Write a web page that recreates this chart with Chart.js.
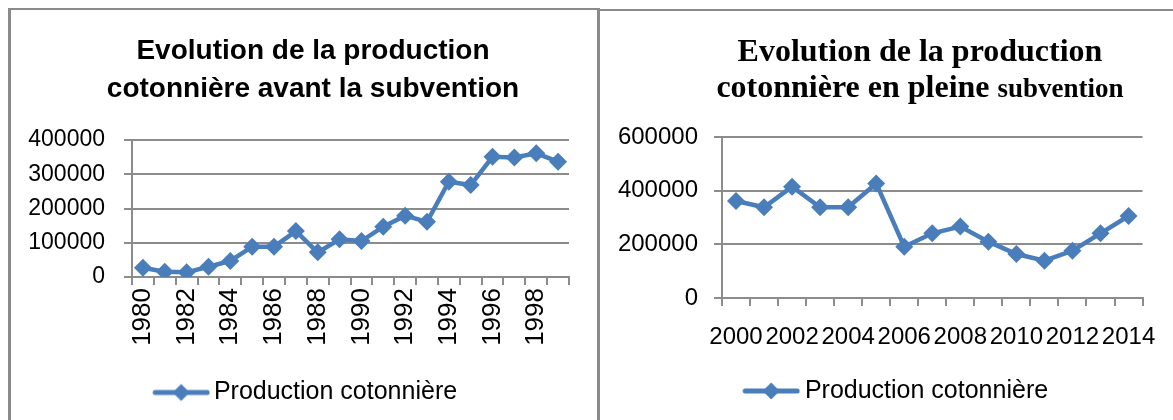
<!DOCTYPE html>
<html>
<head>
<meta charset="utf-8">
<script src="https://cdn.jsdelivr.net/npm/chart.js@4.4.0/dist/chart.umd.min.js"></script>
<style>
  html, body { margin: 0; padding: 0; background: #fff; width: 1173px; height: 420px; overflow: hidden; }
  #leftBox { position: absolute; left: 8px; top: 8px; width: 586px; height: 420px;
             border-left: 3px solid #8a8a8a; border-top: 2px solid #8a8a8a; border-right: 3px solid #8a8a8a; }
  #rightBox { position: absolute; left: 597px; top: 9px; width: 600px; height: 420px;
              border-left: 3px solid #8a8a8a; border-top: 2px solid #8a8a8a; }
  #wrapAvant { position: absolute; left: 0; top: 0; width: 598px; height: 420px; }
  #wrapPleine { position: absolute; left: 600px; top: 0; width: 573px; height: 420px; }
</style>
</head>
<body>
<div id="leftBox"></div>
<div id="rightBox"></div>
<div id="wrapAvant"><canvas id="chartAvant" width="598" height="420"></canvas></div>
<div id="wrapPleine"><canvas id="chartPleine" width="573" height="420"></canvas></div>
<script>
// Avant la subvention (1980-1999)
const yearsAvant = ['1980', '1981', '1982', '1983', '1984', '1985', '1986', '1987', '1988', '1989',
                    '1990', '1991', '1992', '1993', '1994', '1995', '1996', '1997', '1998', '1999'];
const productionAvant = [27000, 15500, 13700, 30000, 46700, 88500, 88500, 134000, 72000, 110000,
                         105000, 147000, 179000, 161000, 278000, 268500, 351000, 349000, 361000, 336600];
const yTicksAvant = [0, 100000, 200000, 300000, 400000];

// En pleine subvention (2000-2014)
const yearsPleine = ['2000', '2001', '2002', '2003', '2004', '2005', '2006', '2007',
                     '2008', '2009', '2010', '2011', '2012', '2013', '2014'];
const productionPleine = [361500, 338000, 415000, 338000, 338000, 427000, 191000, 241000,
                          266000, 210000, 164000, 139000, 176000, 241000, 305600];
const yTicksPleine = [0, 200000, 400000, 600000];

const seriesName = 'Production cotonnière';

const BLUE = '#4a7ebb';
const GRID = '#8c8c8c';
const SANS = '"Liberation Sans", Arial, sans-serif';
const SERIF = '"Liberation Serif", "Times New Roman", serif';

// titles: each line is a list of [text, font] pieces
const titleAvant = [
    [['Evolution de la production', 'bold 28px ' + SANS]],
    [['cotonnière avant la subvention', 'bold 28px ' + SANS]]
];
const titlePleine = [
    [['Evolution de la production', 'bold 32px ' + SERIF]],
    [['cotonnière en pleine ', 'bold 32px ' + SERIF], ['subvention', 'bold 27px ' + SERIF]]
];

// line + diamond glyph for the legend, sitting at the right end of a wider transparent image
function legendGlyph(imgWidth) {
    const c = document.createElement('canvas');
    c.width = Math.round(imgWidth); c.height = 20;
    const g = c.getContext('2d');
    const x0 = c.width - 57;
    g.strokeStyle = BLUE;
    g.lineWidth = 5;
    g.lineCap = 'round';
    g.beginPath(); g.moveTo(x0 + 2, 10); g.lineTo(x0 + 54, 10); g.stroke();
    g.fillStyle = BLUE;
    g.beginPath();
    g.moveTo(x0 + 28, 1.5); g.lineTo(x0 + 36.5, 10); g.lineTo(x0 + 28, 18.5); g.lineTo(x0 + 19.5, 10);
    g.closePath(); g.fill();
    return c;
}

// title drawn by hand so one line can mix two font sizes
const pieceTitle = {
    id: 'pieceTitle',
    afterDraw(chart, args, opts) {
        if (!opts.lines) return;
        const ctx = chart.ctx;
        ctx.save();
        ctx.fillStyle = '#000';
        ctx.textBaseline = 'alphabetic';
        ctx.textAlign = 'left';
        opts.lines.forEach((pieces, i) => {
            const widths = pieces.map(p => { ctx.font = p[1]; return ctx.measureText(p[0]).width; });
            let x = opts.x - widths.reduce((a, b) => a + b, 0) / 2;
            pieces.forEach((p, j) => {
                ctx.font = p[1];
                ctx.fillText(p[0], x, opts.baselines[i]);
                x += widths[j];
            });
        });
        ctx.restore();
    }
};

function buildChart(id, cfg) {
    const ticks = cfg.yTicks;
    return new Chart(document.getElementById(id), {
        type: 'line',
        data: {
            labels: cfg.labels,
            datasets: [{
                label: seriesName,
                data: cfg.values,
                borderColor: BLUE,
                backgroundColor: BLUE,
                borderWidth: 4.5,
                tension: 0,
                pointStyle: 'rectRot',
                pointRadius: 9,
                pointBorderWidth: 0,
                pointBackgroundColor: BLUE,
                fill: false
            }]
        },
        plugins: [pieceTitle],
        options: {
            responsive: false,
            animation: false,
            events: [],
            layout: { padding: cfg.padding },
            plugins: {
                title: { display: false },
                pieceTitle: cfg.title,
                tooltip: { enabled: false },
                legend: {
                    position: 'bottom',
                    labels: {
                        usePointStyle: true,
                        pointStyle: legendGlyph(cfg.glyphImg),
                        pointStyleWidth: cfg.glyphBox,
                        padding: 10,
                        color: '#000',
                        font: { family: SANS, size: 25 }
                    }
                }
            },
            scales: {
                x: {
                    offset: true,
                    afterFit: s => { s.height = cfg.xHeight; },
                    grid: { offset: true, drawOnChartArea: false, drawTicks: true, tickLength: 8, color: GRID, lineWidth: 2 },
                    border: { display: true, color: GRID, width: 2 },
                    ticks: {
                        autoSkip: false,
                        maxRotation: cfg.rotation,
                        minRotation: cfg.rotation,
                        padding: cfg.xPad,
                        color: '#000',
                        font: { family: SANS, size: cfg.xFont },
                        callback: function(v, i) { return i % 2 === 0 ? this.getLabelForValue(v) : ''; }
                    }
                },
                y: {
                    min: ticks[0],
                    max: ticks[ticks.length - 1],
                    afterFit: s => { s.width = cfg.yWidth; },
                    grid: { color: GRID, lineWidth: 2, tickLength: 8 },
                    border: { display: true, color: GRID, width: 2 },
                    ticks: {
                        stepSize: ticks[1] - ticks[0],
                        padding: cfg.yPad,
                        color: '#000',
                        font: { family: SANS, size: cfg.yFont },
                        callback: v => String(v)
                    }
                }
            }
        }
    });
}

buildChart('chartAvant', {
    labels: yearsAvant,
    values: productionAvant,
    yTicks: yTicksAvant,
    padding: { left: 8, right: 29, top: 140, bottom: 5 },
    title: { lines: titleAvant, x: 313, baselines: [59, 97] },
    glyphBox: 81.5,
    glyphImg: 98.5,
    xHeight: 93,
    yWidth: 124,
    rotation: 90,
    xPad: 3,
    xFont: 26,
    yPad: 19,
    yFont: 23
});

buildChart('chartPleine', {
    labels: yearsPleine,
    values: productionPleine,
    yTicks: yTicksPleine,
    padding: { left: 8, right: 23, top: 137, bottom: 6.5 },
    title: { lines: titlePleine, x: 320, baselines: [61, 97] },
    glyphBox: 82.5,
    glyphImg: 97.5,
    xHeight: 70.5,
    yWidth: 114,
    rotation: 0,
    xPad: 17,
    xFont: 24,
    yPad: 16,
    yFont: 24
});
</script>
</body>
</html>
